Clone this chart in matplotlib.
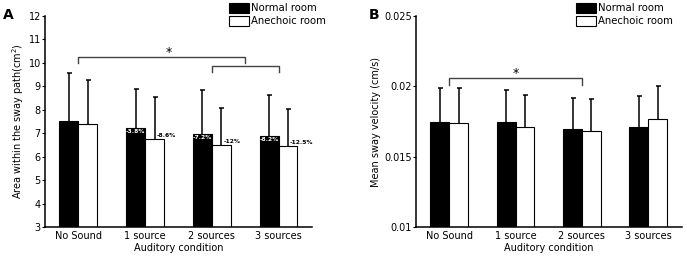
import matplotlib
matplotlib.use('Agg')
import numpy as np
import matplotlib.pyplot as plt
from matplotlib.ticker import FormatStrFormatter

conditions = ['No Sound', '1 source', '2 sources', '3 sources']
rooms = ['Normal room', 'Anechoic room']

# panel A: area within the sway path (cm^2)
area_normal = [7.52, 7.24, 6.98, 6.90]
area_anechoic = [7.39, 6.75, 6.50, 6.47]
area_normal_sd = [2.03, 1.66, 1.88, 1.73]
area_anechoic_sd = [1.89, 1.81, 1.59, 1.55]
pct_normal = ['', '-3.8%', '-7.2%', '-8.2%']
pct_anechoic = ['', '-8.6%', '-12%', '-12.5%']

# panel B: mean sway velocity (cm/s)
vel_normal = [0.01745, 0.01745, 0.01698, 0.01709]
vel_anechoic = [0.01742, 0.01714, 0.01681, 0.01769]
vel_normal_sd = [0.00245, 0.00231, 0.00221, 0.00222]
vel_anechoic_sd = [0.00248, 0.00224, 0.00229, 0.00236]

plt.rcParams['font.size'] = 7
plt.rcParams['axes.linewidth'] = 1.1

fig = plt.figure(figsize=(6.87, 2.58), dpi=100)
axA = fig.add_axes([0.0655, 0.120, 0.3885, 0.818])
axB = fig.add_axes([0.6055, 0.120, 0.3865, 0.818])

x = np.arange(1, 5)
w = 0.284


def draw_bars(ax, normal, anechoic, nsd, asd):
    bn = ax.bar(x - w/2, normal, w, color='black', edgecolor='black', lw=0.8,
                label=rooms[0], zorder=2)
    ba = ax.bar(x + w/2, anechoic, w, color='white', edgecolor='black', lw=0.8,
                label=rooms[1], zorder=2)
    # symmetric bars drawn behind the bars, so only the upper half shows
    ax.errorbar(x - w/2, normal, yerr=nsd, fmt='none', ecolor='black',
                elinewidth=1.1, capsize=1.8, capthick=1.1, zorder=1)
    ax.errorbar(x + w/2, anechoic, yerr=asd, fmt='none', ecolor='black',
                elinewidth=1.1, capsize=1.8, capthick=1.1, zorder=1)
    ax.set_xlim(0.5, 4.5)
    ax.set_xticks(x)
    ax.set_xticklabels(conditions)
    ax.spines['top'].set_visible(False)
    ax.spines['right'].set_visible(False)
    ax.tick_params(axis='y', direction='out', length=2, width=0.8, pad=1)
    ax.tick_params(axis='x', length=0, pad=3)
    ax.set_xlabel('Auditory condition', labelpad=1)
    return bn, ba


def bracket(ax, x1, x2, y, h):
    ax.plot([x1, x1, x2, x2], [y - h, y, y, y - h], color='#444444', lw=1.0)


# ---- panel A
draw_bars(axA, area_normal, area_anechoic, area_normal_sd, area_anechoic_sd)
axA.set_ylim(3, 12)
axA.set_yticks(range(3, 13))
axA.set_ylabel('Area within the sway path(cm$^2$)', labelpad=1.5)
for i in range(4):
    if pct_normal[i]:
        axA.annotate(pct_normal[i], (x[i] - w/2, area_normal[i]), xytext=(0, -1.2),
                     textcoords='offset points', ha='center', va='top',
                     color='white', fontsize=4.3, fontweight='bold', zorder=4)
    if pct_anechoic[i]:
        axA.annotate(pct_anechoic[i], (x[i] + w/2, area_anechoic[i]), xytext=(1.5, 0.8),
                     textcoords='offset points', ha='left', va='bottom',
                     color='black', fontsize=4.3, fontweight='bold', zorder=4)
bracket(axA, 1.0, 3.5, 10.26, 0.26)
axA.text(2.35, 10.15, '*', ha='center', va='bottom', fontsize=9)
bracket(axA, 3.0, 4.0, 9.88, 0.26)
axA.legend(loc='upper left', bbox_to_anchor=(229/687, 1 - 3/258),
           bbox_transform=fig.transFigure, frameon=False, borderpad=0,
           borderaxespad=0, handlelength=1.95, handleheight=1.1,
           handletextpad=0.2, labelspacing=0.25, fontsize=7.3)
fig.text(0.005, 0.97, 'A', fontsize=10, fontweight='bold', va='top')

# ---- panel B
draw_bars(axB, vel_normal, vel_anechoic, vel_normal_sd, vel_anechoic_sd)
axB.set_ylim(0.01, 0.025)
axB.set_yticks([0.01, 0.015, 0.02, 0.025])
axB.yaxis.set_major_formatter(FormatStrFormatter('%g'))
axB.set_ylabel('Mean sway velocity (cm/s)', labelpad=2)
bracket(axB, 1.0, 3.0, 0.0206, 0.00047)
axB.text(2.0, 0.02045, '*', ha='center', va='bottom', fontsize=9)
axB.legend(loc='upper left', bbox_to_anchor=(576/687, 1 - 3/258),
           bbox_transform=fig.transFigure, frameon=False, borderpad=0,
           borderaxespad=0, handlelength=1.95, handleheight=1.1,
           handletextpad=0.2, labelspacing=0.25, fontsize=7.3)
fig.text(0.537, 0.97, 'B', fontsize=10, fontweight='bold', va='top')

fig.savefig('out.png', dpi=100)
